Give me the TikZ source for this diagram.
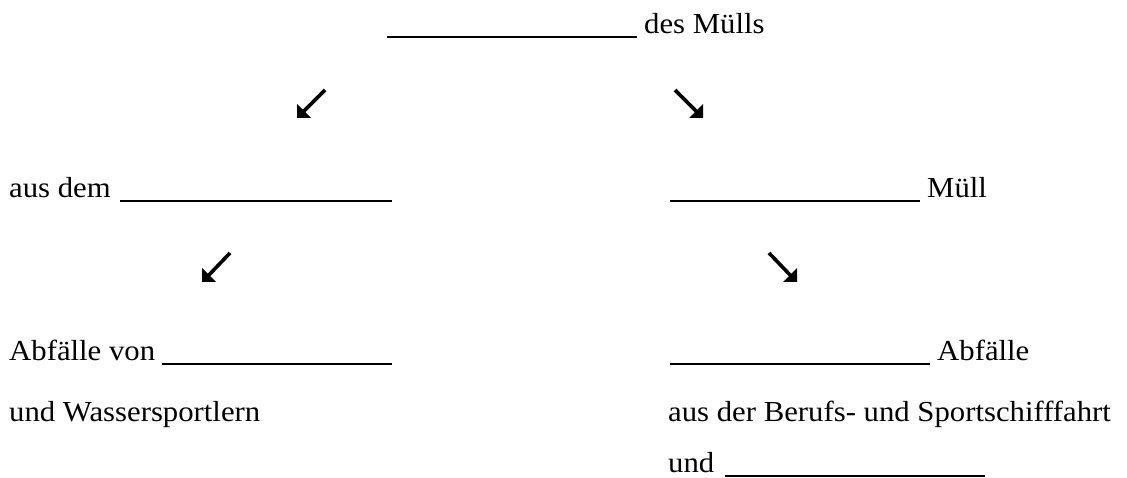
\documentclass[tikz,border=0pt]{standalone}
\usepackage{fontspec}
\usetikzlibrary{calc}
\setmainfont{Liberation Serif}[FakeStretch=1.06]
\newcommand{\blankline}[1]{\rule[-4.5pt]{#1pt}{2pt}}
\begin{document}
\begin{tikzpicture}[x=1pt,y=-1pt,
  txt/.style={anchor=base west,inner sep=0pt,font=\fontsize{29}{35}\selectfont},
  shaft/.style={line width=3.6pt},
  head/.style={fill=black}]
\useasboundingbox (0,0) rectangle (1127,478);
% text rows
\node[txt] (top) at (387,34) {\blankline{250}\hspace{7pt}des Mülls};
\node[txt] (l1) at (9,198) {\makebox[111pt][l]{aus dem}\blankline{272}};
\node[txt] (r1) at (670,198) {\blankline{250}\hspace{7pt}Müll};
\node[txt] (l2) at (9,360) {Abfälle von\hspace{7pt}\blankline{230}};
\node[txt] (r2) at (670,360) {\blankline{260}\hspace{7pt}Abfälle};
\node[txt] (l3) at (9,421) {und Wassersportlern};
\node[txt] (r3) at (668,421) {aus der Berufs- und Sportschifffahrt};
\node[txt] (r4) at (668,472) {\makebox[57pt][l]{und}\blankline{260}};
% arrows, row 1
\coordinate (a1s) at (325,90);  \coordinate (a1e) at (297,118);
\coordinate (a2s) at (675,90);  \coordinate (a2e) at (703,118);
% arrows, row 2
\coordinate (a3s) at (230,253); \coordinate (a3e) at (202,282);
\coordinate (a4s) at (769,253); \coordinate (a4e) at (797,282);
% south-west arrows
\foreach \s/\e in {a1s/a1e,a3s/a3e}{
  \draw[shaft] (\s) -- ($(\e)+(5,-5)$);
  \fill[head] (\e) -- ++(0,-14) -- ++(14,14) -- cycle;
}
% south-east arrows
\foreach \s/\e in {a2s/a2e,a4s/a4e}{
  \draw[shaft] (\s) -- ($(\e)+(-5,-5)$);
  \fill[head] (\e) -- ++(0,-14) -- ++(-14,14) -- cycle;
}
\end{tikzpicture}
\end{document}
